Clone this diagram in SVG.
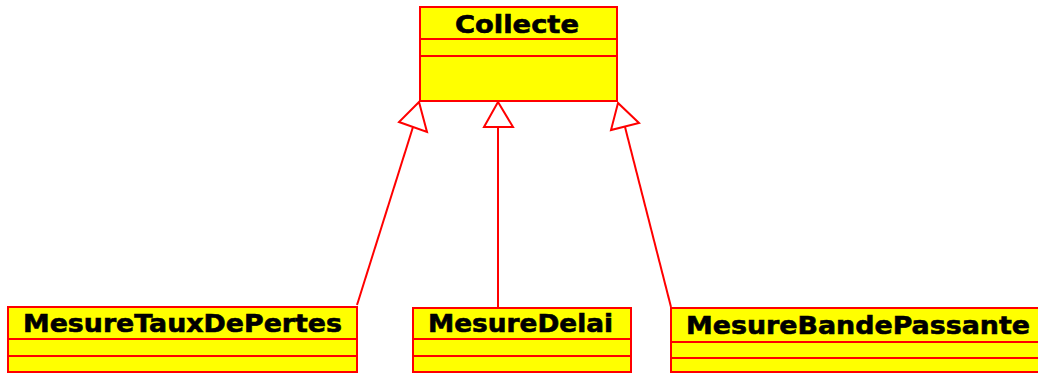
<svg xmlns="http://www.w3.org/2000/svg" width="1038" height="373" viewBox="0 0 1038 373">
<style>
.box{fill:#ffff00;stroke:#ff0000;stroke-width:2}
.div{stroke:#ff0000;stroke-width:2;fill:none}
.lbl{font-family:"DejaVu Sans",sans-serif;font-weight:bold;font-size:25px;fill:#000;stroke:#000;stroke-width:0.6}
.edge{stroke:#ff0000;stroke-width:2;fill:none}
.head{fill:#ffffff;stroke:#ff0000;stroke-width:2}
</style>
<rect width="1038" height="373" fill="#ffffff"/>
<g id="connectors">
<line class="edge" x1="357" y1="305" x2="413" y2="127"/>
<polygon class="head" points="419,102 399,122 427,132"/>
<line class="edge" x1="498" y1="307" x2="498" y2="127"/>
<polygon class="head" points="498,102 484,127 513,127"/>
<line class="edge" x1="671" y1="307" x2="625" y2="127"/>
<polygon class="head" points="618,103 611,130 639,123"/>
</g>
<g id="Collecte">
<rect class="box" x="420" y="7" width="197" height="94"/>
<line class="div" x1="420" y1="39" x2="617" y2="39"/>
<line class="div" x1="420" y1="56" x2="617" y2="56"/>
<text class="lbl" x="455" y="33" textLength="124" lengthAdjust="spacingAndGlyphs">Collecte</text>
</g>
<g id="MesureTauxDePertes">
<rect class="box" x="8" y="307" width="349" height="65"/>
<line class="div" x1="8" y1="339" x2="357" y2="339"/>
<line class="div" x1="8" y1="356" x2="357" y2="356"/>
<text class="lbl" x="23" y="332" textLength="319" lengthAdjust="spacingAndGlyphs">MesureTauxDePertes</text>
</g>
<g id="MesureDelai">
<rect class="box" x="413" y="308" width="218" height="64"/>
<line class="div" x1="413" y1="339" x2="631" y2="339"/>
<line class="div" x1="413" y1="356" x2="631" y2="356"/>
<text class="lbl" x="428" y="332" textLength="185" lengthAdjust="spacingAndGlyphs">MesureDelai</text>
</g>
<g id="MesureBandePassante">
<rect class="box" x="671" y="308" width="380" height="64"/>
<line class="div" x1="671" y1="342" x2="1051" y2="342"/>
<line class="div" x1="671" y1="358" x2="1051" y2="358"/>
<text class="lbl" x="686" y="334" textLength="344" lengthAdjust="spacingAndGlyphs">MesureBandePassante</text>
</g>
</svg>
